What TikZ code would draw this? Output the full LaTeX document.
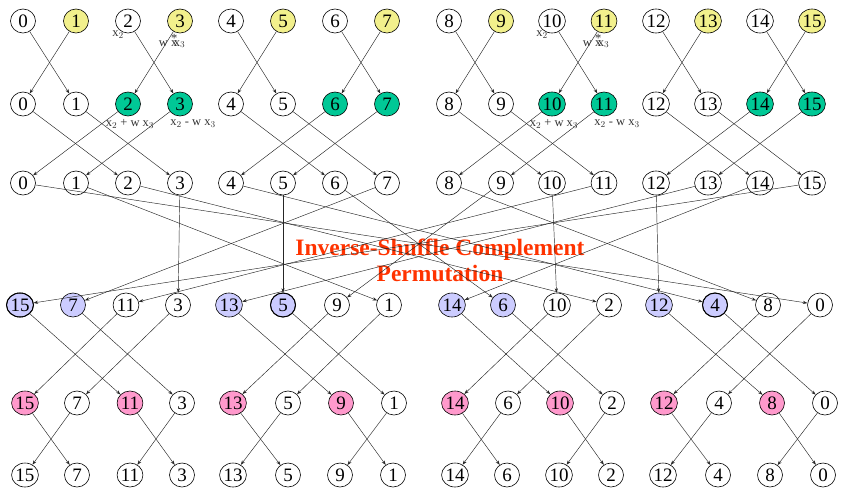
\documentclass[tikz,border=0pt]{standalone}
\usepackage{fontspec}
\setmainfont{Liberation Serif}
\usetikzlibrary{shapes.geometric,arrows.meta}
\definecolor{nyel}{RGB}{242,240,140}
\definecolor{ngrn}{RGB}{0,200,150}
\definecolor{nblu}{RGB}{204,204,255}
\definecolor{npnk}{RGB}{255,153,204}
\definecolor{titlered}{RGB}{255,51,0}
\begin{document}
\begin{tikzpicture}[x=1pt,y=-1pt,
  nd/.style={ellipse,draw=black,line width=0.6pt,minimum width=25pt,minimum height=24pt,inner sep=0pt,font=\fontsize{19}{19}\selectfont},
  thk/.style={line width=1pt},
  conn/.style={draw=black!85,line width=0.45pt,-{Stealth[length=4.5pt,width=3.2pt]}},
  lbl/.style={font=\fontsize{12.5}{12.5}\selectfont,text=black!80,inner sep=0pt},
  ttl/.style={font=\bfseries\fontsize{23.5}{26}\selectfont,text=titlered,align=center}
]
\useasboundingbox (0,0) rectangle (843,490);

% title
\node[ttl] (title) at (440,260) {Inverse-Shuffle Complement\\Permutation};

% rows 1-3
\foreach \i/\x/\fa/\fb in {0/23/white/white,1/76/nyel/white,2/128/white/ngrn,3/180/nyel/ngrn,
  4/231/white/white,5/283/nyel/white,6/335/white/ngrn,7/387/nyel/ngrn,
  8/449/white/white,9/501/nyel/white,10/552/white/ngrn,11/604/nyel/ngrn,
  12/656/white/white,13/708/nyel/white,14/760/white/ngrn,15/812/nyel/ngrn}{
  \node[nd,fill=\fa] (a\i) at (\x,21) {\i};
  \node[nd,fill=\fb] (b\i) at (\x,104) {\i};
  \node[nd] (c\i) at (\x,183) {\i};
}

% rows 4-6 (by position)
\foreach \p/\l/\x/\xe/\xf/\fd/\fe in {
  0/15/20/25/25/nblu/npnk, 1/7/73/77/77/nblu/white, 2/11/126/130/130/white/npnk, 3/3/178/182/182/white/white,
  4/13/229/233/233/nblu/npnk, 5/5/283/288/288/nblu/white, 6/9/337/341/340/white/npnk, 7/1/389/394/393/white/white,
  8/14/452/455/455/nblu/npnk, 9/6/503/508/507/nblu/white, 10/10/557/560/559/white/npnk, 11/2/609/612/611/white/white,
  12/12/659/664/663/nblu/npnk, 13/4/715/719/718/nblu/white, 14/8/768/772/770/white/npnk, 15/0/820/825/823/white/white}{
  \node[nd,fill=\fd] (d\p) at (\x,305) {\l};
  \node[nd,fill=\fe] (e\p) at (\xe,403) {\l};
  \node[nd] (f\p) at (\xf,475) {\l};
}
\draw[thk] (d0) ellipse [x radius=13.5pt,y radius=12pt];
\draw[thk] (d5) ellipse [x radius=12.5pt,y radius=12pt];
\draw[thk] (d13) ellipse [x radius=12.5pt,y radius=12pt];

% row1 -> row2 (pairs), row2 -> row3 (groups of four)
\foreach \i/\j/\k in {0/1/2,1/0/3,2/3/0,3/2/1,4/5/6,5/4/7,6/7/4,7/6/5,
  8/9/10,9/8/11,10/11/8,11/10/9,12/13/14,13/12/15,14/15/12,15/14/13}{
  \draw[conn] (a\i) -- (b\j);
  \draw[conn] (b\i) -- (c\k);
}

% row3 -> row4 (inverse-shuffle complement)
\foreach \i/\p in {0/15,1/7,2/11,3/3,4/13,5/5,6/9,7/1,8/14,9/6,10/10,11/2,12/12,13/4,14/8,15/0}{
  \draw[conn] (c\i) -- (d\p);
}

% row4 -> row5, row5 -> row6
\foreach \p/\q/\r in {0/2/1,1/3/0,2/0/3,3/1/2,4/6/5,5/7/4,6/4/7,7/5/6,
  8/10/9,9/11/8,10/8/11,11/9/10,12/14/13,13/15/12,14/12/15,15/13/14}{
  \draw[conn] (d\p) -- (e\q);
  \draw[conn] (e\p) -- (f\r);
}

% butterfly labels
\foreach \s/\n in {0/l, 424/r}{
  \node[lbl] (x2\n) at (118+\s,35) {x$_2$};
  \node[lbl] (wx\n) at (172+\s,41) {w x\llap{\raisebox{4pt}{*}}\kern-3.5pt x$_3$};
  \node[lbl] (sp\n) at (130+\s,124) {x$_2$ + w x$_3$};
  \node[lbl] (sm\n) at (193+\s,124) {x$_2$ - w x$_3$};
}
\end{tikzpicture}
\end{document}
